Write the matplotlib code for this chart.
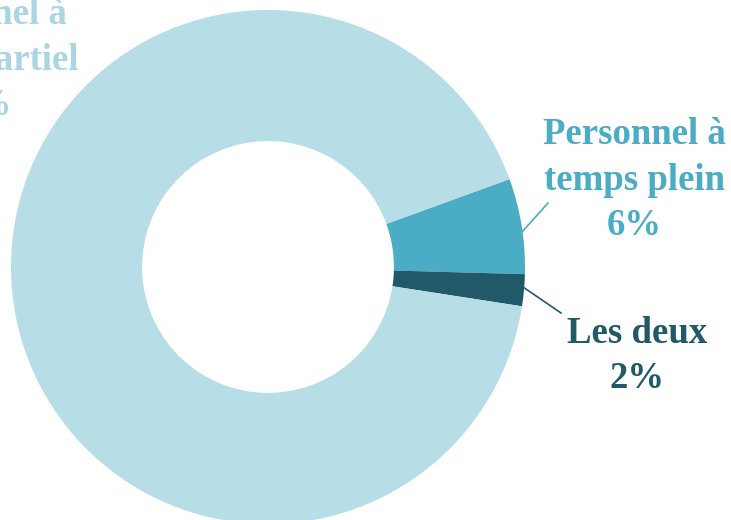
import matplotlib.pyplot as plt

# répartition du personnel
categories = ['Personnel à\ntemps plein', 'Les deux', 'Personnel à\ntemps partiel']
valeurs = [6, 2, 92]
couleurs = ['#4BACC6', '#215968', '#B7DDE7']
couleurs_texte = ['#4BACC6', '#215968', '#A9D6E2']

fig = plt.figure(figsize=(7.31, 5.20), dpi=100)
ax = fig.add_axes([0, 0, 1, 1])

cx, cy, r = 268, 253, 257
wedges, _ = ax.pie(valeurs, colors=couleurs, startangle=20, counterclock=False,
                   center=(cx, cy), radius=r, frame=True,
                   wedgeprops=dict(width=r * 0.51, edgecolor='none'))
ax.set_xlim(0, 731)
ax.set_ylim(0, 520)
ax.axis('off')

police = dict(family='Liberation Serif', fontweight='bold', fontsize=26.5,
              ha='center', va='center', linespacing=1.38)

# étiquettes : position du texte et bout du trait
pos_texte = [(634, 340), (637, 164), (-25, 460)]
traits = [((522, 288), (548, 317)), ((523, 233), (561, 207)), None]

for nom, v, c, (tx, ty), t in zip(categories, valeurs, couleurs_texte, pos_texte, traits):
    ax.text(tx, ty, f'{nom}\n{v}%', color=c, **police)
    if t:
        (x0, y0), (x1, y1) = t
        ax.plot([x0, x1], [y0, y1], color=c, lw=1.2)

fig.savefig('out.png', dpi=100)
